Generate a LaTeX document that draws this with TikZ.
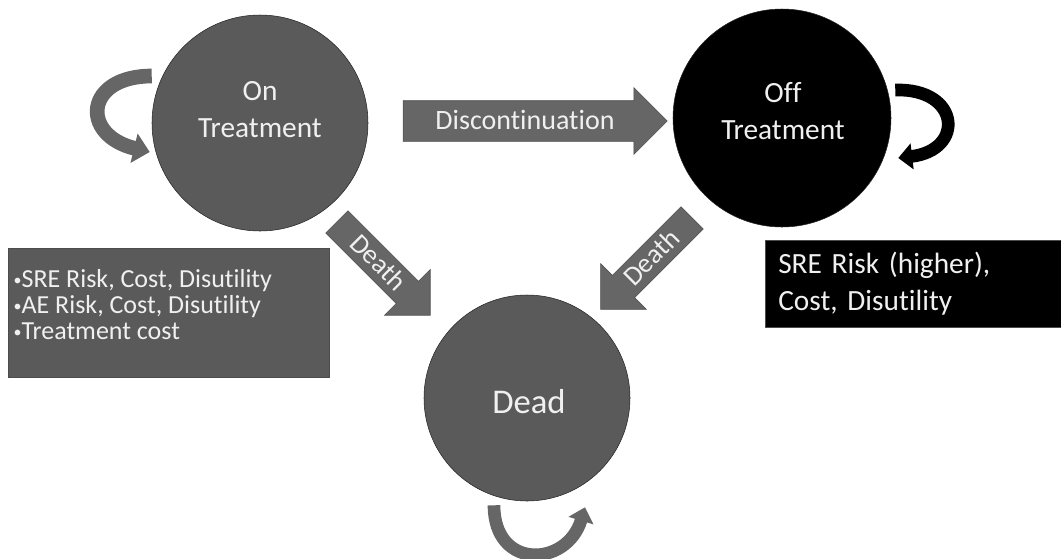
\documentclass[tikz,border=0pt]{standalone}
\usepackage{fontspec}
\setmainfont{Carlito}[Ligatures=NoCommon]
\usetikzlibrary{shapes.arrows,arrows.meta,calc}
\definecolor{stategray}{HTML}{5A5A5A}
\definecolor{arrowgray}{HTML}{666666}
\definecolor{paletext}{HTML}{F0F0F0}
\newcommand{\sbul}{{\fontsize{12}{12}\selectfont\raisebox{1.8pt}{•}}}
\begin{document}
\begin{tikzpicture}[x=0.75pt,y=-0.75pt,
		state/.style={circle,draw=black!85,fill=stategray,minimum size=#1,inner sep=0pt},
		statetext/.style={text=paletext,align=center,font=\fontsize{22}{27.75}\selectfont},
		fatarrow/.style={single arrow,draw=black!70,fill=arrowgray,text=paletext,inner xsep=2pt,inner ysep=0pt,single arrow head extend=#1},
		deathtext/.style={font=\fontsize{20.5}{24}\selectfont,text height=17.6pt,text depth=5.6pt},
		loopline/.style={line width=#1,-{Triangle[width=2*#1,length=1.1*#1]}},
		infobox/.style={rectangle,anchor=north west,text=paletext,draw=black!70}]
	\useasboundingbox (0,0) rectangle (1061,558);
	\node[state=162pt] (on) at (260,123) {};
	\node[state=163.5pt,fill=black] (off) at (782,118) {};
	\node[state=154.5pt] (dead) at (527,398) {};
	\node[statetext] (onlbl) at (260,110) {On\\Treatment};
	\node[statetext] (offlbl) at (783,111) {Off\\Treatment};
	\node[statetext,font=\fontsize{26}{30}\selectfont] (deadlbl) at (529,402) {Dead};
	\node[fatarrow=9.75pt,minimum height=198pt,text height=21.7pt,text depth=8.3pt,font=\fontsize{21}{25}\selectfont] (disc) at (525,121) {Discontinuation};
	\node[fatarrow=12.4pt,deathtext,minimum height=99pt,rotate=-45] (deathon) at (378,263) {Death};
	\node[fatarrow=12.4pt,deathtext,minimum height=97pt,rotate=45,shape border rotate=180] (deathoff) at (652,258) {Death};
	\draw[loopline=11pt,draw=arrowgray] ($(on.west)+(0,-47)$) .. controls +(-67,0) and +(-70,-17) .. ($(on.west)+(-2,29)$);
	\draw[loopline=9.5pt,draw=black] ($(off.east)+(4,-28)$) .. controls +(65,-2) and +(67,-8) .. ($(off.east)+(7,40)$);
	\draw[loopline=9.5pt,draw=arrowgray] ($(dead.south)+(-33,4)$) .. controls +(0,65) and +(-18,60) .. ($(dead.south)+(58,6)$);
	\node[infobox,fill=stategray,inner xsep=4pt,inner ysep=0pt,font=\fontsize{19.5}{19.5}\selectfont] (onbox) at (8,248)
		{\parbox[t][96.75pt][t]{233pt}{\raggedright\vspace*{16pt}\sbul SRE Risk, Cost, Disutility\\\sbul AE Risk, Cost, Disutility\\\sbul Treatment cost}};
	\node[infobox,fill=black,align=left,minimum height=65.25pt,text width=202.5pt,inner xsep=9.75pt,font=\fontsize{22}{27.75}\selectfont] (offbox) at (765,240) {SRE Risk (higher),\\Cost, Disutility};
\end{tikzpicture}
\end{document}
